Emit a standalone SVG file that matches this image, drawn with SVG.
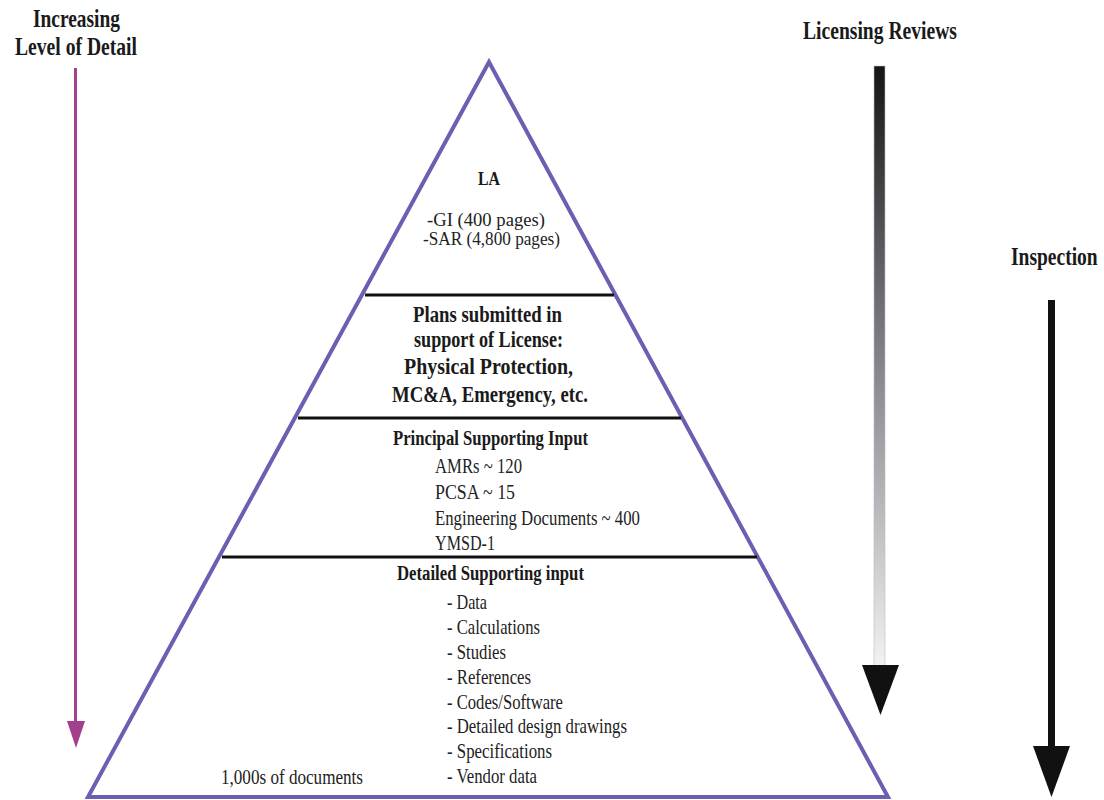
<svg xmlns="http://www.w3.org/2000/svg" width="1104" height="800" viewBox="0 0 1104 800">
  <defs>
    <linearGradient id="reviewFade" x1="0" y1="0" x2="0" y2="1">
      <stop offset="0" stop-color="#151515"/>
      <stop offset="0.45" stop-color="#7a7a82"/>
      <stop offset="1" stop-color="#f2f2f2"/>
    </linearGradient>
  </defs>
  <style>
    .hd { font-family: "Liberation Serif", "Times New Roman", serif; font-weight: bold; fill: #1a1a1a; }
    .tx { font-family: "Liberation Serif", "Times New Roman", serif; fill: #222; }
    .tier { stroke: #111; stroke-width: 3; }
    .pyr { fill: none; stroke: #6c5fb2; stroke-width: 4; stroke-linejoin: miter; }
  </style>
  <rect width="1104" height="800" fill="#fff"/>

  <!-- pyramid outline and tier dividers -->
  <g id="pyramid">
    <polygon class="pyr" points="489,62 888,797 88,797"/>
    <line class="tier" x1="365" y1="295" x2="614" y2="295"/>
    <line class="tier" x1="298" y1="418" x2="681" y2="418"/>
    <line class="tier" x1="222" y1="557" x2="757" y2="557"/>
  </g>

  <!-- top tier: license application -->
  <g id="tier-la">
    <text class="hd" x="478" y="185" font-size="19" textLength="22" lengthAdjust="spacingAndGlyphs">LA</text>
    <text class="tx" x="427" y="226" font-size="19" textLength="118" lengthAdjust="spacingAndGlyphs">-GI (400 pages)</text>
    <text class="tx" x="423" y="245" font-size="19" textLength="137" lengthAdjust="spacingAndGlyphs">-SAR (4,800 pages)</text>
  </g>

  <!-- second tier: plans -->
  <g id="tier-plans">
    <text class="hd" x="413" y="322" font-size="23" textLength="149" lengthAdjust="spacingAndGlyphs">Plans submitted in</text>
    <text class="hd" x="414" y="347" font-size="23" textLength="149" lengthAdjust="spacingAndGlyphs">support of License:</text>
    <text class="hd" x="404" y="374" font-size="23" textLength="169" lengthAdjust="spacingAndGlyphs">Physical Protection,</text>
    <text class="hd" x="392" y="402" font-size="23" textLength="196" lengthAdjust="spacingAndGlyphs">MC&amp;A, Emergency, etc.</text>
  </g>

  <!-- third tier: principal supporting input -->
  <g id="tier-principal">
    <text class="hd" x="393" y="445" font-size="20" textLength="195" lengthAdjust="spacingAndGlyphs">Principal Supporting Input</text>
    <text class="tx" x="435" y="473" font-size="21" textLength="87" lengthAdjust="spacingAndGlyphs">AMRs ~ 120</text>
    <text class="tx" x="435" y="499" font-size="21" textLength="80" lengthAdjust="spacingAndGlyphs">PCSA  ~ 15</text>
    <text class="tx" x="435" y="525" font-size="21" textLength="205" lengthAdjust="spacingAndGlyphs">Engineering Documents ~ 400</text>
    <text class="tx" x="435" y="550" font-size="21" textLength="60" lengthAdjust="spacingAndGlyphs">YMSD-1</text>
  </g>

  <!-- base tier: detailed supporting input -->
  <g id="tier-detailed">
    <text class="hd" x="397" y="580" font-size="20" textLength="187" lengthAdjust="spacingAndGlyphs">Detailed Supporting input</text>
    <text class="tx" x="447" y="609" font-size="21" textLength="40" lengthAdjust="spacingAndGlyphs">- Data</text>
    <text class="tx" x="447" y="634" font-size="21" textLength="93" lengthAdjust="spacingAndGlyphs">- Calculations</text>
    <text class="tx" x="447" y="659" font-size="21" textLength="59" lengthAdjust="spacingAndGlyphs">- Studies</text>
    <text class="tx" x="447" y="684" font-size="21" textLength="84" lengthAdjust="spacingAndGlyphs">- References</text>
    <text class="tx" x="447" y="709" font-size="21" textLength="116" lengthAdjust="spacingAndGlyphs">- Codes/Software</text>
    <text class="tx" x="447" y="733" font-size="21" textLength="180" lengthAdjust="spacingAndGlyphs">- Detailed design drawings</text>
    <text class="tx" x="447" y="758" font-size="21" textLength="105" lengthAdjust="spacingAndGlyphs">- Specifications</text>
    <text class="tx" x="447" y="783" font-size="21" textLength="90" lengthAdjust="spacingAndGlyphs">- Vendor data</text>
    <text class="tx" x="221" y="784" font-size="21" textLength="142" lengthAdjust="spacingAndGlyphs">1,000s of  documents</text>
  </g>

  <!-- side captions -->
  <g id="label-detail">
    <text class="hd" x="33" y="27" font-size="25" textLength="87" lengthAdjust="spacingAndGlyphs">Increasing</text>
    <text class="hd" x="15" y="55" font-size="25" textLength="122" lengthAdjust="spacingAndGlyphs">Level of Detail</text>
  </g>
  <g id="label-reviews">
    <text class="hd" x="803" y="39" font-size="25" textLength="154" lengthAdjust="spacingAndGlyphs">Licensing Reviews</text>
  </g>
  <g id="label-inspection">
    <!-- horizontally condensed so it clears the right edge -->
    <text class="hd" transform="translate(1011,265) scale(0.78,1)" font-size="25">Inspection</text>
  </g>

  <!-- direction arrows -->
  <g id="connectors">
    <g id="arrow-detail">
      <line x1="75.5" y1="68" x2="75.5" y2="724" stroke="#a3408d" stroke-width="3"/>
      <polygon points="67,721 85,721 76,748" fill="#a3408d"/>
    </g>
    <g id="arrow-reviews">
      <rect x="874" y="66" width="11" height="600" fill="url(#reviewFade)" stroke="#bbb" stroke-width="0.6"/>
      <polygon points="862,665 899,665 880.5,715" fill="#111"/>
    </g>
    <g id="arrow-inspection">
      <rect x="1048" y="300" width="7" height="448" fill="#111"/>
      <polygon points="1033,746 1070,746 1051.5,797" fill="#111"/>
    </g>
  </g>
</svg>
